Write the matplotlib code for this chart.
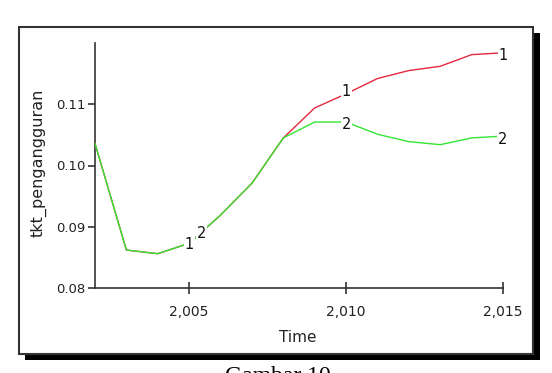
import matplotlib
matplotlib.use("Agg")
import matplotlib.pyplot as plt
from matplotlib.patches import Rectangle
from matplotlib.ticker import FixedLocator, FuncFormatter

years = [2002, 2003, 2004, 2005, 2006, 2007, 2008, 2009, 2010, 2011, 2012, 2013, 2014, 2015]
run1 = [0.1036, 0.0862, 0.0856, 0.0873, 0.0919, 0.0971, 0.1045, 0.1094, 0.1117, 0.1142, 0.1155, 0.1162, 0.1181, 0.1184]
run2 = [0.1036, 0.0862, 0.0856, 0.0873, 0.0919, 0.0971, 0.1045, 0.1071, 0.1071, 0.1051, 0.1039, 0.1034, 0.1045, 0.1048]
label1_pos = [(2005.0, 0.0871), (2010.0, 0.1120), (2015.0, 0.1179)]
label2_pos = [(2005.4, 0.0889), (2010.0, 0.1067), (2015.0, 0.1043)]
xticks = [2005, 2010, 2015]
yticks = [0.08, 0.09, 0.10, 0.11]

W, H = 552, 373
fig = plt.figure(figsize=(W / 100, H / 100), dpi=100)
fig.patch.set_facecolor("white")

SANS = ["DejaVu Sans"]

def px(x0, y0, x1, y1):
    return (x0 / W, 1 - y1 / H, (x1 - x0) / W, (y1 - y0) / H)

# shadow and frame
sx, sy, sw, sh = px(25, 33, 540, 360)
fig.patches.append(Rectangle((sx, sy), sw, sh, transform=fig.transFigure,
                             facecolor="black", edgecolor="none", zorder=0))
fx, fy, fw, fh = px(19, 27, 533, 354)
fig.patches.append(Rectangle((fx, fy), fw, fh, transform=fig.transFigure,
                             facecolor="white", edgecolor="#333333", linewidth=1.5, zorder=1))

ax = fig.add_axes(px(95, 43, 503, 288))
ax.set_facecolor("none")
ax.set_zorder(2)

ax.plot(years, run1, color="#e3283f", linewidth=1.0, zorder=3)
ax.plot(years, run2, color="#33e633", linewidth=1.0, zorder=4)

font = dict(family=SANS, size=10.5, color="#111111")
for (x, y) in label1_pos:
    ax.text(x, y, "1", ha="center", va="center", zorder=6, **font,
            bbox=dict(facecolor="white", edgecolor="none", pad=0.6))
for (x, y) in label2_pos:
    ax.text(x, y, "2", ha="center", va="center", zorder=6, **font,
            bbox=dict(facecolor="white", edgecolor="none", pad=0.6))

ax.set_xlim(2002, 2015)
ax.set_ylim(0.08, 0.12)
for s in ["top", "right"]:
    ax.spines[s].set_visible(False)
for s in ["left", "bottom"]:
    ax.spines[s].set_color("#333333")
    ax.spines[s].set_linewidth(1.2)

ax.xaxis.set_major_locator(FixedLocator(xticks))
ax.yaxis.set_major_locator(FixedLocator(yticks))
ax.xaxis.set_major_formatter(FuncFormatter(lambda v, p: f"{int(round(v)):,}"))
ax.yaxis.set_major_formatter(FuncFormatter(lambda v, p: f"{v:.2f}"))
ax.tick_params(axis="x", direction="inout", length=8, width=1.2, color="#333333", pad=8)
ax.tick_params(axis="y", direction="out", length=5, width=1.2, color="#333333", pad=2)
for lab in ax.get_xticklabels():
    lab.set_fontfamily(SANS)
    lab.set_fontsize(10)
    lab.set_color("#222222")
for lab in ax.get_yticklabels():
    lab.set_fontfamily(SANS)
    lab.set_fontsize(9.5)
    lab.set_color("#222222")

fig.text(298 / W, 1 - 338 / H, "Time", ha="center", va="center",
         fontfamily=SANS, fontsize=11, color="#222222")
fig.text(39 / W, 1 - 163 / H, "tkt_pengangguran", ha="center", va="center", rotation=90,
         fontfamily=SANS, fontsize=11.5, color="#222222")

fig.text(278 / W, 1 - 382 / H, "Gambar 10", ha="center", va="baseline",
         fontfamily=["Liberation Serif", "DejaVu Serif"], fontsize=17, color="black")

fig.savefig("out.png", dpi=100, facecolor="white")
